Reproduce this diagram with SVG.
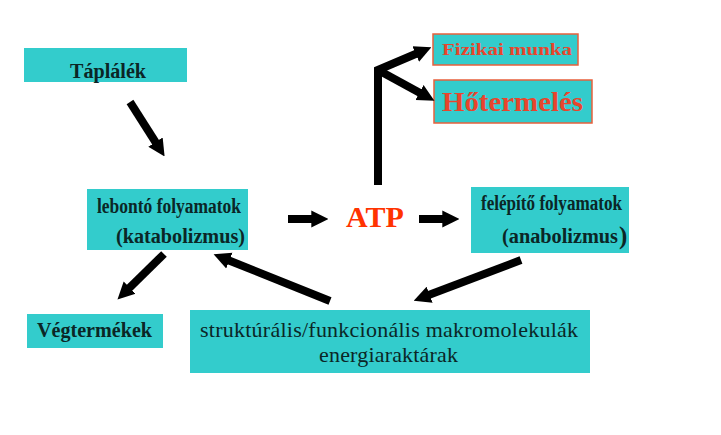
<svg xmlns="http://www.w3.org/2000/svg" width="721" height="435" viewBox="0 0 721 435">
<defs>
<marker id="ah" viewBox="0 0 10 10" refX="1" refY="5" markerUnits="userSpaceOnUse" markerWidth="17" markerHeight="19" orient="auto">
<path d="M0,0 L10,5 L0,10 z" fill="#000"/>
</marker>
<style>
.box{fill:#33CCCC;}
.rbox{fill:#33CCCC;stroke:#E8603C;stroke-width:1.5;}
.t{font-family:"Liberation Serif","Times New Roman",serif;font-weight:bold;font-size:20px;fill:#0B2626;}
.n{font-family:"Liberation Serif","Times New Roman",serif;font-size:22px;fill:#0B2626;}
.r{font-family:"Liberation Serif","Times New Roman",serif;font-weight:bold;fill:#E8452C;}
.c{fill:none;stroke:#000;stroke-width:8;}
</style>
</defs>
<rect width="721" height="435" fill="#fff"/>
<g id="taplalek">
<rect class="box" x="24" y="48" width="163" height="34"/>
<text class="t" x="70" y="78" textLength="76" lengthAdjust="spacingAndGlyphs">Táplálék</text>
</g>
<g id="lebonto">
<rect class="box" x="87" y="189" width="161" height="61"/>
<text class="t" x="97" y="213" font-size="18" textLength="144" lengthAdjust="spacingAndGlyphs">lebontó folyamatok</text>
<text class="t" x="116" y="243" textLength="129" lengthAdjust="spacingAndGlyphs">(katabolizmus)</text>
</g>
<g id="atp">
<text x="346" y="227" font-family="Liberation Serif, serif" font-weight="bold" font-size="30" fill="#FF3300">ATP</text>
</g>
<g id="felepito">
<rect class="box" x="471" y="187" width="158" height="66"/>
<text class="t" x="481" y="210" font-size="18" textLength="141" lengthAdjust="spacingAndGlyphs">felépítő folyamatok</text>
<text class="t" x="502" y="243"><tspan textLength="116" lengthAdjust="spacingAndGlyphs">(anabolizmus</tspan><tspan x="619" font-size="25" dy="1">)</tspan></text>
</g>
<g id="fizikai">
<rect class="rbox" x="433" y="34" width="145" height="31"/>
<text class="r" x="442" y="55" font-size="17" textLength="130" lengthAdjust="spacingAndGlyphs">Fizikai munka</text>
</g>
<g id="hotermeles">
<rect class="rbox" x="434" y="80" width="158" height="43"/>
<text class="r" x="442" y="111" font-size="27" textLength="141" lengthAdjust="spacingAndGlyphs">Hőtermelés</text>
</g>
<g id="vegtermekek">
<rect class="box" x="27" y="314" width="136" height="34"/>
<text class="t" x="37" y="337" textLength="115" lengthAdjust="spacingAndGlyphs">Végtermékek</text>
</g>
<g id="strukturalis">
<rect class="box" x="190" y="310" width="400" height="63"/>
<text class="n" x="200" y="337" textLength="378">struktúrális/funkcionális makromolekulák</text>
<text class="n" x="319" y="362" textLength="139">energiaraktárak</text>
</g>
<g id="connectors">
<line class="c" x1="130" y1="102" x2="156.4" y2="143.5" marker-end="url(#ah)"/>
<line class="c" x1="288" y1="219" x2="313" y2="219" marker-end="url(#ah)"/>
<line class="c" x1="419" y1="219" x2="444" y2="219" marker-end="url(#ah)"/>
<path class="c" d="M378,185 V70 L417.3,53.3" stroke-linejoin="miter" marker-end="url(#ah)"/>
<line class="c" x1="378" y1="70" x2="421" y2="93.4" marker-end="url(#ah)"/>
<line class="c" x1="164" y1="254" x2="128.4" y2="288.8" marker-end="url(#ah)"/>
<line class="c" x1="330" y1="301" x2="227.8" y2="260" marker-end="url(#ah)"/>
<line class="c" x1="521" y1="260" x2="428" y2="295.3" marker-end="url(#ah)"/>
</g>
</svg>
